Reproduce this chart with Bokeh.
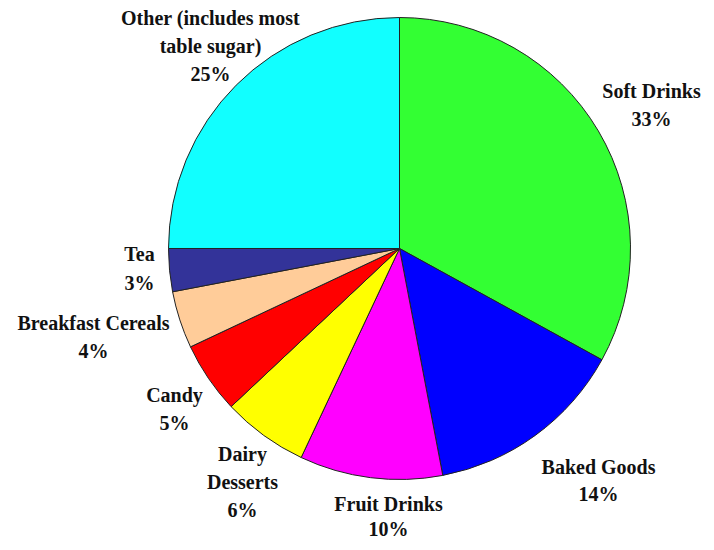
import numpy as np
from bokeh.plotting import figure
from bokeh.models import Range1d, ColumnDataSource
from bokeh.core.properties import value
from bokeh.embed import file_html
from bokeh.resources import INLINE

categories = ["Soft Drinks", "Baked Goods", "Fruit Drinks", "Dairy Desserts",
              "Candy", "Breakfast Cereals", "Tea", "Other (includes most table sugar)"]
shares = [33, 14, 10, 6, 5, 4, 3, 25]
colors = ["#33FF33", "#0000FF", "#FF00FF", "#FFFF00", "#FF0000", "#FFCC99", "#333399", "#11FFFF"]

# label lines (text) per category
label_lines = [
    ["Soft Drinks"],
    ["Baked Goods"],
    ["Fruit Drinks"],
    ["Dairy", "Desserts"],
    ["Candy"],
    ["Breakfast Cereals"],
    ["Tea"],
    ["Other (includes most", "table sugar)"],
]

W, H = 706, 542

def sy(y):  # picture y -> data y
    return H - y

# layout: label anchor (picture pixel coords of first line centre) and line gaps
label_pos = [(651, 90), (598, 466), (388, 503), (242, 453), (174, 394),
             (93, 322), (139, 253), (210, 17)]
label_gap = [28, 27, 25, 28, 28, 28, 29, 28]

cx, cy, r = 399, sy(248), 231

total = float(sum(shares))
frac = np.array(shares) / total
cum_end = np.cumsum(frac)
cum_start = cum_end - frac
start_angle = np.pi / 2 - cum_start * 2 * np.pi
end_angle = np.pi / 2 - cum_end * 2 * np.pi

src = ColumnDataSource(dict(start=start_angle, end=end_angle, color=colors))

p = figure(width=W, height=H, output_backend="svg", toolbar_location=None,
           x_range=Range1d(0, W), y_range=Range1d(0, H), min_border=0)
p.axis.visible = False
p.grid.visible = False
p.outline_line_color = None
p.background_fill_color = "white"
p.border_fill_color = "white"

p.wedge(x=cx, y=cy, radius=r, start_angle="start", end_angle="end",
        direction="clock", fill_color="color", line_color="#222222",
        line_width=1, source=src)

xs, ys, texts = [], [], []
for lines, s, (lx, ly), g in zip(label_lines, shares, label_pos, label_gap):
    all_lines = lines + [f"{s}%"]
    for i, t in enumerate(all_lines):
        xs.append(lx)
        ys.append(sy(ly + i * g))
        texts.append(t)

p.text(x=xs, y=ys, text=texts, text_align="center", text_baseline="middle",
       text_font=value("Liberation Serif"), text_font_style="bold",
       text_font_size="20px", text_color="#111111")

open("out.html", "w").write(file_html(p, INLINE))
